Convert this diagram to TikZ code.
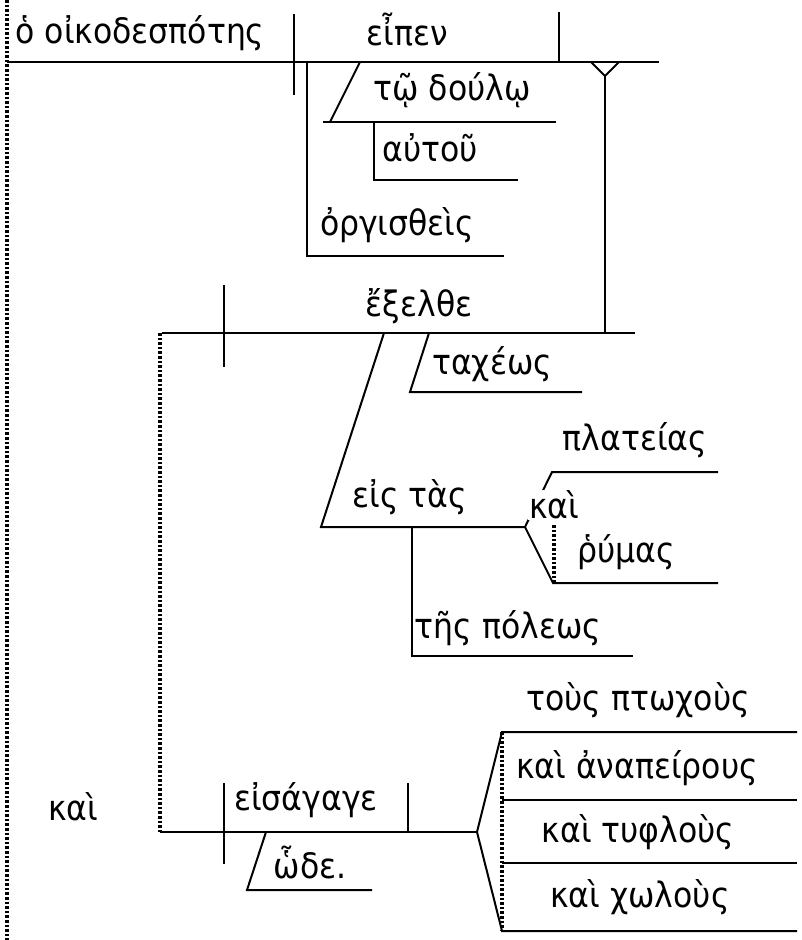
\documentclass[tikz,border=0pt]{standalone}
\usepackage{fontspec}
\setmainfont{DejaVu Sans}[FakeStretch=0.9]
\begin{document}
\begin{tikzpicture}[x=1pt,y=-1pt,
  ln/.style={line width=2pt},
  dl/.style={line width=3.2pt, dash pattern=on 2.6pt off 2pt},
  lbl/.style={font=\fontsize{35}{40}\selectfont, inner sep=0pt}]
\useasboundingbox (0,0) rectangle (801,940);
% coordinates
\coordinate (d0) at (7,0); \coordinate (d1) at (7,940);
\coordinate (m0) at (7,62); \coordinate (m1) at (659,62);
\coordinate (v1a) at (294,14); \coordinate (v1b) at (294,95);
\coordinate (v2a) at (559,12); \coordinate (v2b) at (559,62);
\coordinate (o0) at (307,62); \coordinate (o1) at (307,256); \coordinate (o2) at (504,256);
\coordinate (t0) at (360,62); \coordinate (t1) at (330,122); \coordinate (t2) at (323,122); \coordinate (t3) at (556,122);
\coordinate (a0) at (374,122); \coordinate (a1) at (374,180); \coordinate (a2) at (518,180);
\coordinate (y0) at (591,62); \coordinate (y1) at (605,76); \coordinate (y2) at (619,62); \coordinate (y3) at (605,333);
\coordinate (e0) at (162,333); \coordinate (e1) at (635,333);
\coordinate (v3a) at (224,285); \coordinate (v3b) at (224,367);
\coordinate (x0) at (429,333); \coordinate (x1) at (410,392); \coordinate (x2) at (582,392);
\coordinate (p0) at (384,333); \coordinate (p1) at (321,527); \coordinate (p2) at (525,527);
\coordinate (f1) at (552,472); \coordinate (f2) at (718,472);
\coordinate (g1) at (553,583); \coordinate (g2) at (718,583);
\coordinate (k0) at (554,525); \coordinate (k1) at (554,583);
\coordinate (h0) at (412,527); \coordinate (h1) at (412,656); \coordinate (h2) at (633,656);
\coordinate (i0) at (160,333); \coordinate (i1) at (160,832);
\coordinate (s1) at (477,832);
\coordinate (v4a) at (224,783); \coordinate (v4b) at (224,864);
\coordinate (v5a) at (408,783); \coordinate (v5b) at (408,832);
\coordinate (w0) at (266,832); \coordinate (w1) at (247,890); \coordinate (w2) at (372,890);
\coordinate (q1) at (502,732); \coordinate (q2) at (797,732);
\coordinate (r1) at (502,800); \coordinate (r2) at (797,800);
\coordinate (u1) at (502,863); \coordinate (u2) at (797,863);
\coordinate (z1) at (502,931); \coordinate (z2) at (797,931);
% lines
\draw[dl] (d0) -- (d1);
\draw[ln] (m0) -- (m1);
\draw[ln] (v1a) -- (v1b);
\draw[ln] (v2a) -- (v2b);
\draw[ln] (o0) -- (o1) -- (o2);
\draw[ln] (t0) -- (t1); \draw[ln] (t2) -- (t3);
\draw[ln] (a0) -- (a1) -- (a2);
\draw[ln] (y0) -- (y1) -- (y2); \draw[ln] (y1) -- (y3);
\draw[ln] (e0) -- (e1);
\draw[ln] (v3a) -- (v3b);
\draw[ln] (x0) -- (x1) -- (x2);
\draw[ln] (p0) -- (p1) -- (p2);
\draw[ln] (p2) -- (f1) -- (f2);
\draw[ln] (p2) -- (g1) -- (g2);
\draw[dl] (k0) -- (k1);
\draw[ln] (h0) -- (h1) -- (h2);
\draw[dl] (i0) -- (i1);
\draw[ln] (i1) -- (s1);
\draw[ln] (v4a) -- (v4b);
\draw[ln] (v5a) -- (v5b);
\draw[ln] (w0) -- (w1) -- (w2);
\draw[ln] (s1) -- (q1) -- (q2);
\draw[ln] (s1) -- (z1) -- (z2);
\draw[ln] (r1) -- (r2);
\draw[ln] (u1) -- (u2);
\draw[dl] (q1) -- (z1);
% labels
\node[lbl] (n1) at (140,33) {ὁ οἰκοδεσπότης};
\node[lbl] (n2) at (407,30) {εἶπεν};
\node[lbl] (n3) at (452,90) {τῷ δούλῳ};
\node[lbl] (n4) at (430,148) {αὐτοῦ};
\node[lbl] (n5) at (397,225) {ὀργισθεὶς};
\node[lbl] (n6) at (419,306) {ἔξελθε};
\node[lbl] (n7) at (492,364) {ταχέως};
\node[lbl] (n8) at (635,440) {πλατείας};
\node[lbl] (n9) at (410,497) {εἰς τὰς};
\node[lbl, fill=white, inner sep=1pt] (n10) at (554,505) {καὶ};
\node[lbl] (n11) at (626,552) {ῥύμας};
\node[lbl] (n12) at (508,628) {τῆς πόλεως};
\node[lbl] (n13) at (73,807) {καὶ};
\node[lbl] (n14) at (306,800) {εἰσάγαγε};
\node[lbl] (n15) at (310,862) {ὧδε.};
\node[lbl] (n16) at (638,700) {τοὺς πτωχοὺς};
\node[lbl] (n17) at (637,768) {καὶ ἀναπείρους};
\node[lbl] (n18) at (638,832) {καὶ τυφλοὺς};
\node[lbl] (n19) at (640,897) {καὶ χωλοὺς};
\end{tikzpicture}
\end{document}
